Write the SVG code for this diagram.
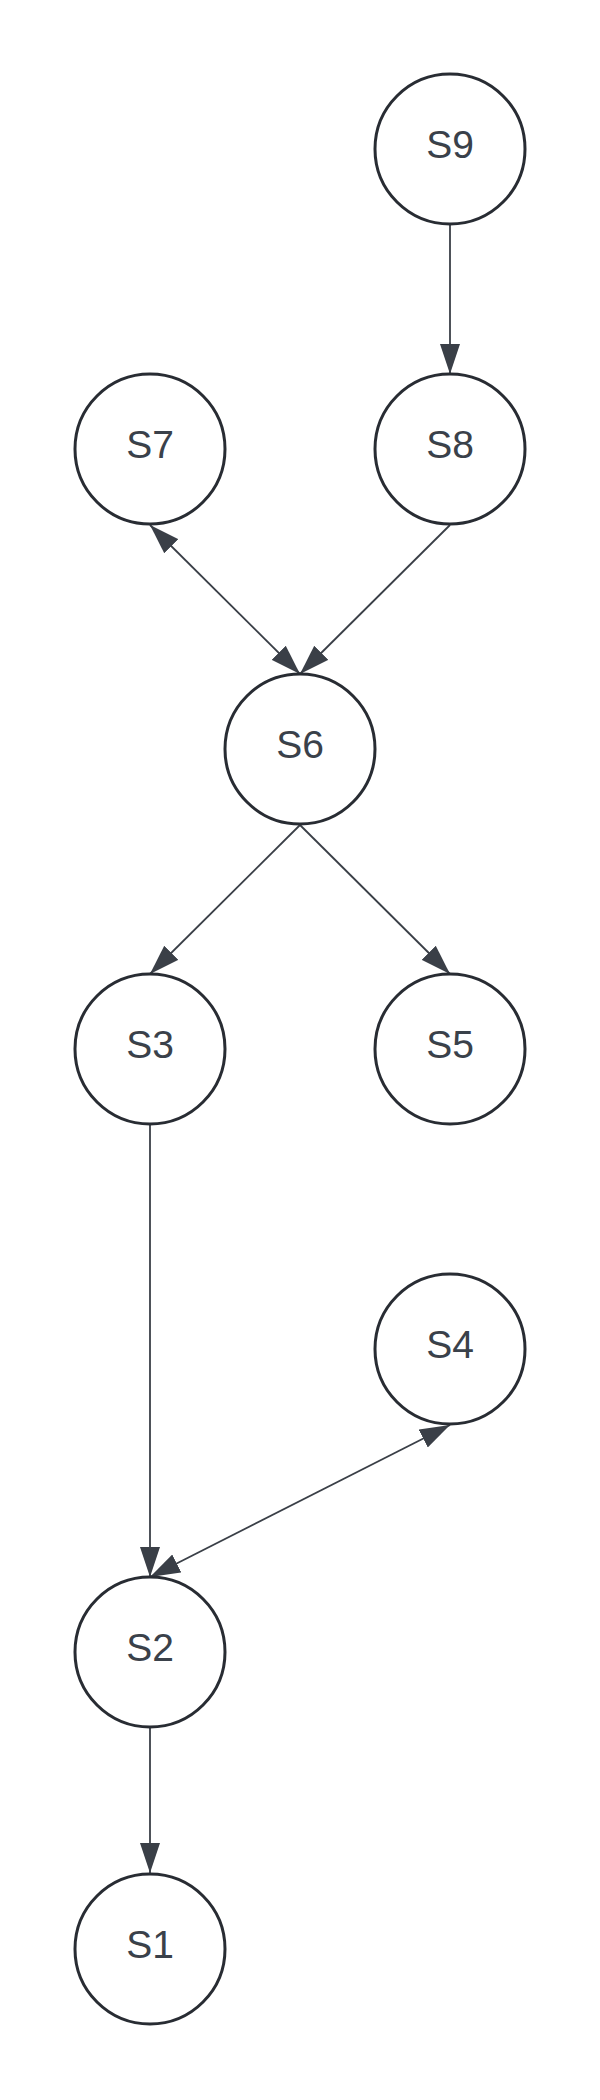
<svg xmlns="http://www.w3.org/2000/svg" width="600" height="2100" viewBox="0 0 600 2100">
<defs>
<style>
.node circle{fill:#ffffff;stroke:#282c33;stroke-width:3}
.node text{font-family:"Liberation Sans",Arial,sans-serif;font-size:39px;fill:#3a414a;text-anchor:middle}
.edge{stroke:#3a3f47;stroke-width:1.8;fill:none}
</style>
<marker id="ah" viewBox="0 0 30 20" refX="30" refY="10" markerWidth="30" markerHeight="20" markerUnits="userSpaceOnUse" orient="auto-start-reverse">
<path d="M0,0 L30,10 L0,20 Z" fill="#3a3f47"/>
</marker>
</defs>
<rect width="600" height="2100" fill="#ffffff"/>
<g id="connectors">
<line class="edge" x1="450" y1="225" x2="450" y2="374" marker-end="url(#ah)"/>
<line class="edge" x1="150" y1="525" x2="300" y2="674" marker-start="url(#ah)" marker-end="url(#ah)"/>
<line class="edge" x1="450" y1="525" x2="300" y2="674" marker-end="url(#ah)"/>
<line class="edge" x1="300" y1="825" x2="150" y2="974" marker-end="url(#ah)"/>
<line class="edge" x1="300" y1="825" x2="450" y2="974" marker-end="url(#ah)"/>
<line class="edge" x1="150" y1="1125" x2="150" y2="1577" marker-end="url(#ah)"/>
<line class="edge" x1="150" y1="1577" x2="450" y2="1425" marker-start="url(#ah)" marker-end="url(#ah)"/>
<line class="edge" x1="150" y1="1728" x2="150" y2="1873" marker-end="url(#ah)"/>
</g>
<g id="S9" class="node"><circle cx="450" cy="149" r="75"/><text x="450" y="158">S9</text></g>
<g id="S7" class="node"><circle cx="150" cy="449" r="75"/><text x="150" y="458">S7</text></g>
<g id="S8" class="node"><circle cx="450" cy="449" r="75"/><text x="450" y="458">S8</text></g>
<g id="S6" class="node"><circle cx="300" cy="749" r="75"/><text x="300" y="758">S6</text></g>
<g id="S3" class="node"><circle cx="150" cy="1049" r="75"/><text x="150" y="1058">S3</text></g>
<g id="S5" class="node"><circle cx="450" cy="1049" r="75"/><text x="450" y="1058">S5</text></g>
<g id="S4" class="node"><circle cx="450" cy="1349" r="75"/><text x="450" y="1358">S4</text></g>
<g id="S2" class="node"><circle cx="150" cy="1652" r="75"/><text x="150" y="1661">S2</text></g>
<g id="S1" class="node"><circle cx="150" cy="1949" r="75"/><text x="150" y="1958">S1</text></g>
</svg>
